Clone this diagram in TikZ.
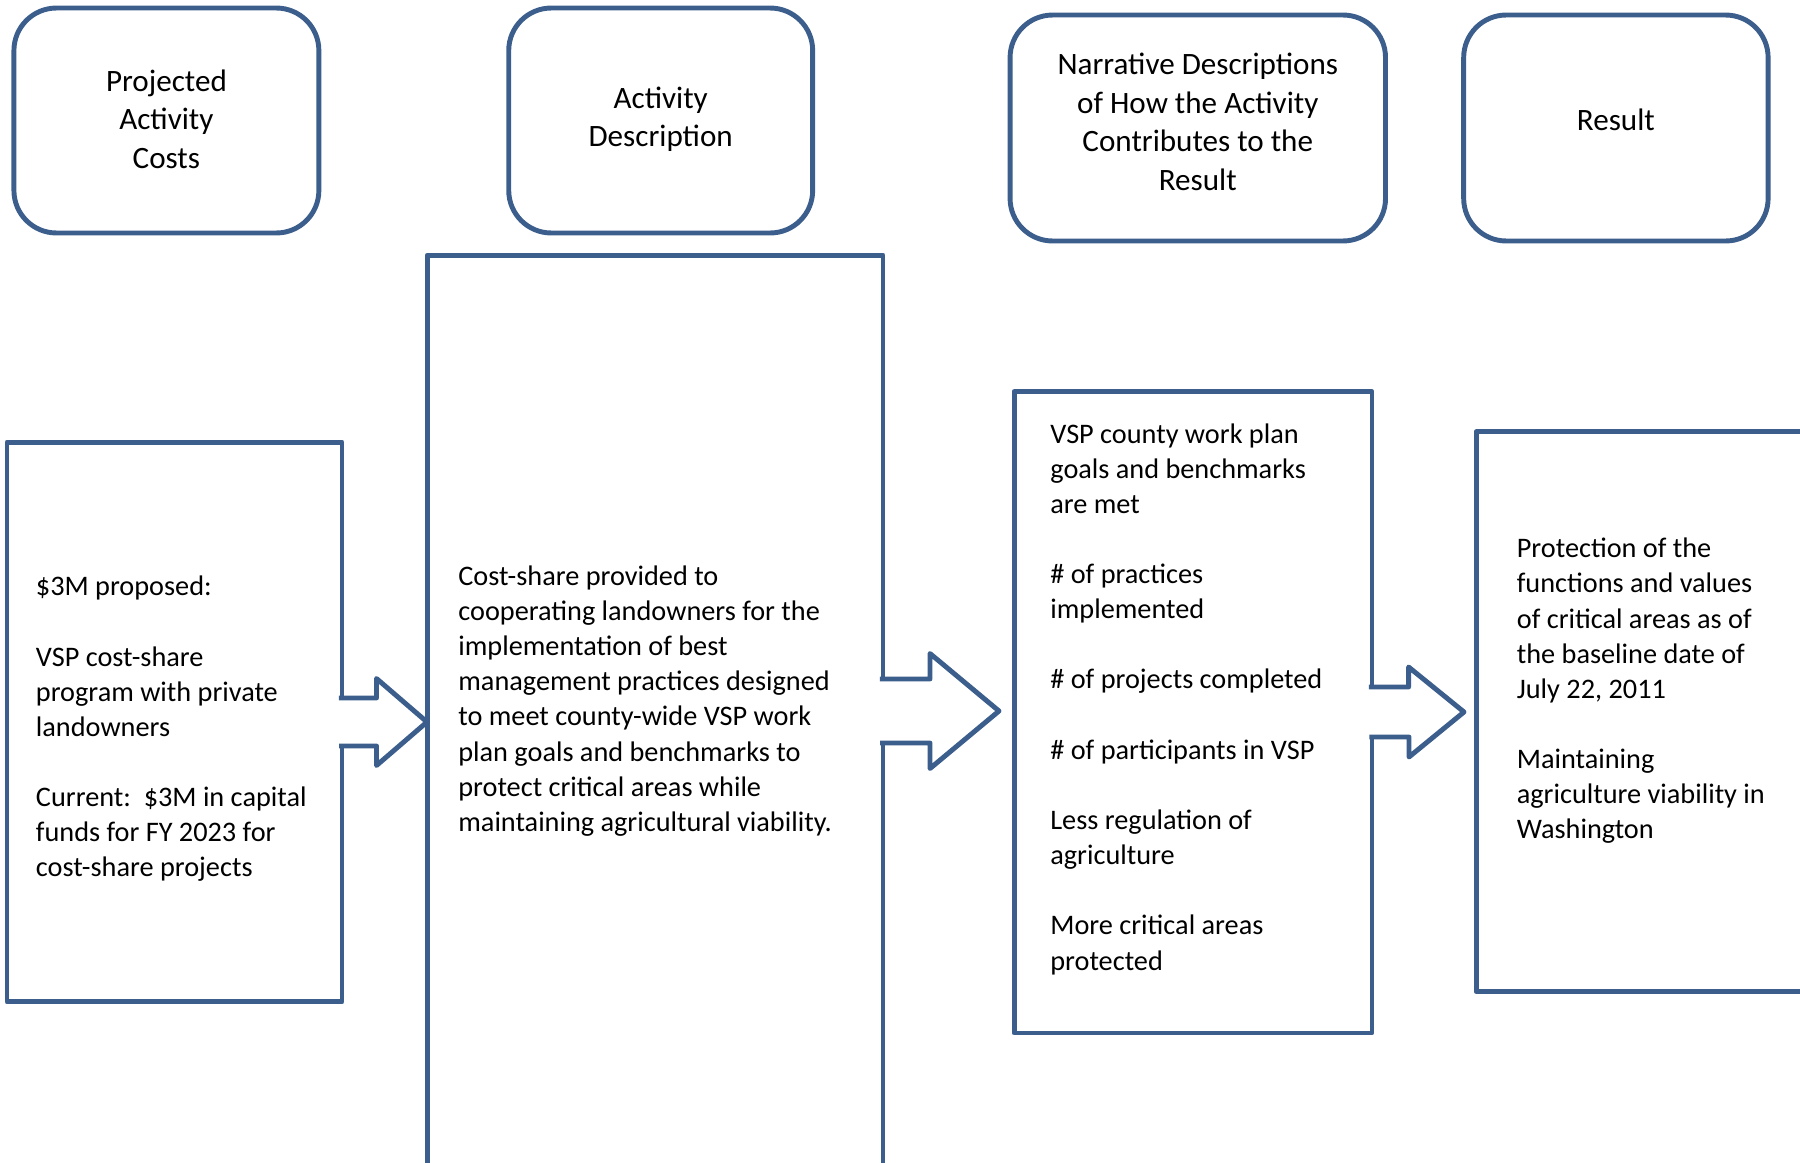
\documentclass[tikz,border=0pt]{standalone}
\usepackage{fontspec}
\setmainfont{Carlito}
\usetikzlibrary{positioning,calc}
\definecolor{vspblue}{HTML}{3B5E8C}

\begin{document}
\begin{tikzpicture}[x=0.02cm,y=-0.02cm,line join=round]
\tikzstyle{head}=[draw=vspblue,line width=2.8pt,rounded corners=0.85cm,minimum height=4.5cm,align=center,outer sep=0pt,font=\fontsize{17.7}{21.9}\selectfont]
\tikzstyle{panel}=[draw=vspblue,line width=2.8pt,outer sep=0pt,inner sep=0pt]
\tikzstyle{body}=[anchor=west,align=left,inner sep=0pt,font=\fontsize{16.1}{20}\selectfont]
\tikzstyle{blockarrow}=[draw=vspblue,line width=2.8pt,fill=white]

\useasboundingbox (0,0) rectangle (1800,1163);
\clip (0,0) rectangle (1800,1163);

% column heads
\node[head,minimum width=6.1cm,text depth=2pt]  (hCost) at (166.4,120.5) {Projected\\Activity\\Costs};
\node[head,minimum width=6.08cm,text depth=4.4pt] (hDesc) at (660.7,120.5) {Activity\\Description};
\node[head,minimum width=7.51cm,minimum height=4.52cm,text depth=7pt] (hNarr) at (1197.8,128) {Narrative Descriptions\\of How the Activity\\Contributes to the\\Result};
\node[head,minimum width=6.09cm,minimum height=4.52cm,text depth=9.5pt] (hRes) at (1615.9,128) {Result};

% panels
\node[panel,minimum width=6.7cm,minimum height=11.2cm]   (cost) at (174.5,722) {};
\node[panel,minimum width=9.12cm,minimum height=19.9cm]  (desc) at (655,752.5) {};
\node[panel,minimum width=7.16cm,minimum height=12.83cm] (narr) at (1193,712.3) {};
\node[panel,minimum width=8.48cm,minimum height=11.2cm]  (res) at (1688,711.8) {};

\node[body] (costTxt) at (35.6,729) {\$3M proposed:\\[20pt]VSP cost-share\\program with private\\landowners\\[20pt]Current:\ \ \$3M in capital\\funds for FY 2023 for\\cost-share projects};
\node[body] (descTxt) at (458,701) {Cost-share provided to\\cooperating landowners for the\\implementation of best\\management practices designed\\to meet county-wide VSP work\\plan goals and benchmarks to\\protect critical areas while\\maintaining agricultural viability.};
\node[body] (narrTxt) at (1050,699) {VSP county work plan\\goals and benchmarks\\are met\\[20pt]\# of practices\\implemented\\[20pt]\# of projects completed\\[20pt]\# of participants in VSP\\[20pt]Less regulation of\\agriculture\\[20pt]More critical areas\\protected};
\node[body] (resTxt) at (1516.5,691) {Protection of the\\functions and values\\of critical areas as of\\the baseline date of\\July 22, 2011\\[20pt]Maintaining\\agriculture viability in\\Washington};

% block arrows
\coordinate (tipA) at (427,722);
\coordinate (tipB) at (999,711);
\coordinate (tipC) at (1464,712);
\draw[blockarrow] (cost.east |- tipA) ++(-3,-24) -- ++(37.5,0) -- ++(0,-19.5) -- (tipA) -- ++(-50.5,43.5) -- ++(0,-19.5) -- ++(-37.5,0);
\draw[blockarrow] (desc.east |- tipB) ++(-3,-32) -- ++(50,0) -- ++(0,-25.5) -- (tipB) -- ++(-69,57.5) -- ++(0,-25.5) -- ++(-50,0);
\draw[blockarrow] (narr.east |- tipC) ++(-3,-25) -- ++(39.6,0) -- ++(0,-20) -- (tipC) -- ++(-55,45) -- ++(0,-20) -- ++(-39.6,0);
\end{tikzpicture}
\end{document}
